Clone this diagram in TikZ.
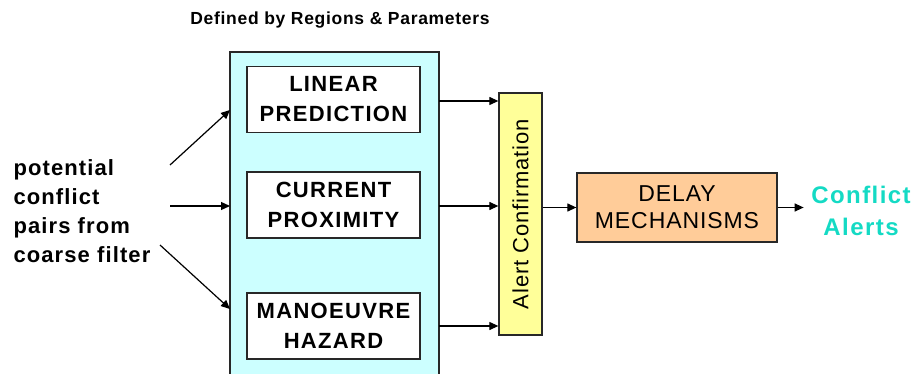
\documentclass[tikz,border=0pt]{standalone}
\usepackage{fontspec}
\setmainfont{Liberation Sans}
\usetikzlibrary{arrows.meta}
\definecolor{panelcyan}{RGB}{204,255,255}
\definecolor{confyellow}{RGB}{255,255,153}
\definecolor{delayorange}{RGB}{255,204,153}
\definecolor{alertteal}{RGB}{20,218,196}
\definecolor{edge}{RGB}{40,40,40}
\newcommand{\spaced}[1]{\addfontfeatures{LetterSpace=#1}}
\tikzset{
  box/.style={draw=edge, line width=1.3pt, inner sep=0pt},
  algobox/.style={box, fill=white, minimum width=173pt, minimum height=66pt,
    align=center, font=\fontsize{22}{30}\selectfont\bfseries\spaced{6}},
  flow/.style={-{Triangle[length=9pt,width=8pt]}, line width=1.2pt, black},
}
\begin{document}
\begin{tikzpicture}[x=1pt, y=-1pt]
\useasboundingbox (0,0) rectangle (913,374);
% parameter panel, running off the lower edge
\fill[panelcyan] (230,52) rectangle (439,380);
\draw[edge, line width=1.3pt] (230,380) -- (230,52) -- (439,52) -- (439,380);
\coordinate (panelL) at (230,206);
\node[font=\fontsize{17.5}{20}\selectfont\bfseries\spaced{4}] (title) at (340,20) {Defined by Regions \& Parameters};
% the three detection algorithms
\node[algobox] (lin) at (333.5,99.5) {LINEAR\\PREDICTION};
\node[algobox] (cur) at (333.5,205) {CURRENT\\PROXIMITY};
\node[algobox] (man) at (333.5,326) {MANOEUVRE\\HAZARD};
% alert confirmation bar
\node[box, fill=confyellow, minimum width=43pt, minimum height=242pt] (conf) at (520.5,214) {};
\node[rotate=90, font=\fontsize{22}{24}\selectfont\spaced{4}] at (conf.center) {Alert Confirmation};
% delay stage
\node[box, fill=delayorange, minimum width=200pt, minimum height=69pt, align=center,
  font=\fontsize{23}{27}\selectfont\spaced{4}] (delay) at (677,207.5) {DELAY\\MECHANISMS};
% output label
\node[align=center, text=alertteal, font=\fontsize{24}{32}\selectfont\bfseries\spaced{6}] (out) at (861,211) {Conflict\\Alerts};
% input label
\node[align=left, anchor=west, font=\fontsize{22}{29}\selectfont\bfseries\spaced{5}] (in) at (10,211) {potential\\conflict\\pairs from\\coarse filter};
% input connectors
\coordinate (inA) at (170,165);
\coordinate (inB) at (170,206);
\coordinate (inC) at (160,245);
\coordinate (pA) at (230,110);
\coordinate (pC) at (230,309);
\draw[flow] (inA) -- (pA);
\draw[flow] (inB) -- (panelL);
\draw[flow] (inC) -- (pC);
% panel outputs into confirmation
\draw[flow] (439,101) -- (conf.west |- 0,101);
\draw[flow] (439,206) -- (conf.west |- 0,206);
\draw[flow] (439,326) -- (conf.west |- 0,326);
\draw[flow] (conf.east |- delay.west) -- (delay.west);
\draw[flow] (delay.east) -- ++(26,0);
\end{tikzpicture}
\end{document}
